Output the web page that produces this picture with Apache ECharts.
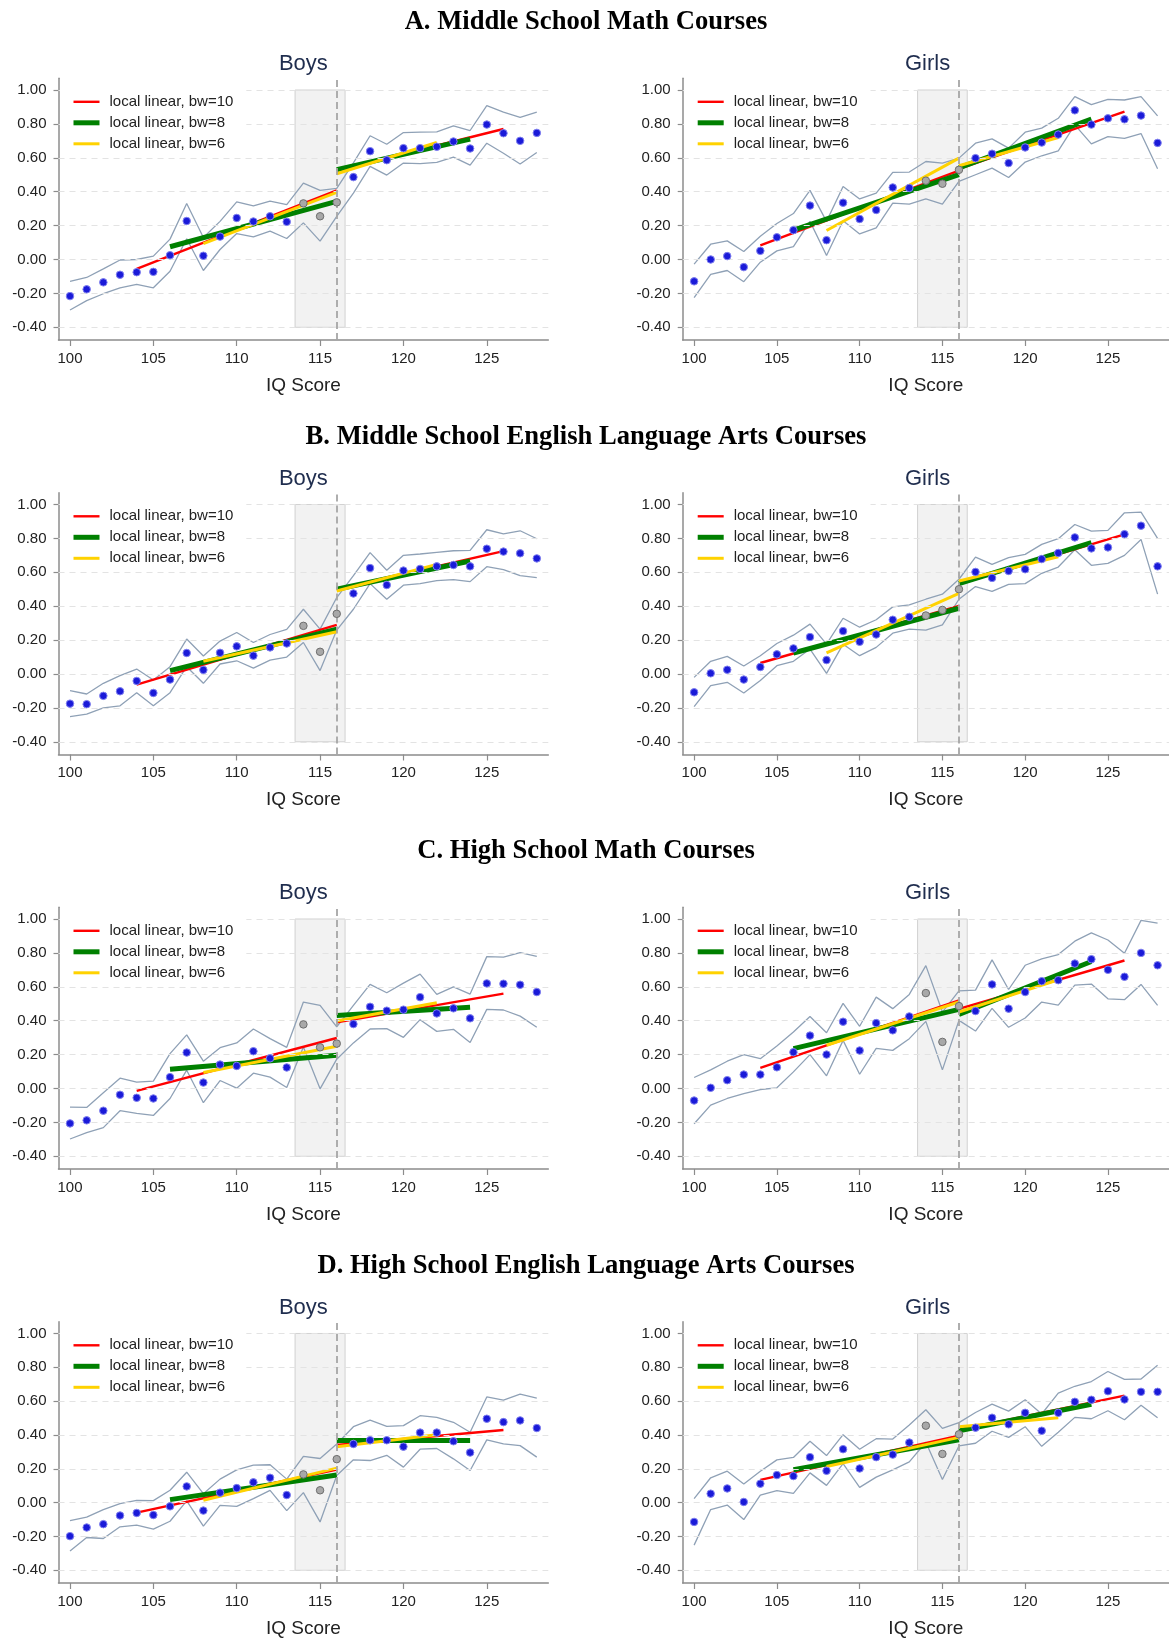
<!DOCTYPE html>
<html>
<head>
<meta charset="utf-8">
<script src="https://cdn.jsdelivr.net/npm/echarts@6/dist/echarts.min.js"></script>
<style>
html,body{margin:0;padding:0;background:#fff;}
#chart{width:1169px;height:1639px;}
</style>
</head>
<body>
<div id="chart"></div>
<script>
// ---------- shared axis / design values ----------
const IQ = [100,101,102,103,104,105,106,107,108,109,110,111,112,113,114,115,116,117,118,119,120,121,122,123,124,125,126,127,128];
const X_TICKS = [100,105,110,115,120,125];
const Y_TICKS = [-0.4,-0.2,0,0.2,0.4,0.6,0.8,1.0];
const CUTOFF = 116;
const DONUT = [114,115,116];
const SHADE_X = [113.5,116.5];
const SHADE_Y = [-0.4,1.0];
const BW_NAMES = ['local linear, bw=10','local linear, bw=8','local linear, bw=6'];
const BW10_X = [[104,116],[116,126]];
const BW8_X = [[106,116],[116,124]];
const BW6_X = [[108,116],[116,122]];
const SECTION_TITLES = ['A. Middle School Math Courses','B. Middle School English Language Arts Courses','C. High School Math Courses','D. High School English Language Arts Courses'];
const GROUPS = ['Boys','Girls'];

// ---------- A. Middle School Math ----------
const A_boys_pts = [-0.216,-0.176,-0.135,-0.090,-0.075,-0.073,0.025,0.227,0.022,0.135,0.245,0.224,0.255,0.222,0.331,0.255,0.337,0.486,0.639,0.586,0.657,0.657,0.665,0.696,0.655,0.796,0.745,0.700,0.747];
const A_boys_hi = [-0.129,-0.106,-0.055,-0.003,0.000,0.020,0.120,0.330,0.130,0.225,0.340,0.316,0.345,0.324,0.451,0.408,0.420,0.570,0.730,0.680,0.749,0.751,0.753,0.788,0.761,0.908,0.869,0.839,0.869];
const A_boys_lo = [-0.298,-0.243,-0.202,-0.167,-0.147,-0.167,-0.069,0.122,-0.065,0.059,0.153,0.133,0.167,0.124,0.216,0.108,0.255,0.392,0.549,0.498,0.569,0.565,0.573,0.604,0.557,0.686,0.627,0.563,0.631];
const A_boys_bw10 = [[-0.055,0.408],[0.525,0.770]];
const A_boys_bw8 = [[0.075,0.343],[0.530,0.710]];
const A_boys_bw6 = [[0.094,0.396],[0.506,0.690]];

const A_girls_pts = [-0.129,0.000,0.020,-0.045,0.051,0.131,0.173,0.318,0.114,0.335,0.239,0.292,0.425,0.422,0.465,0.447,0.529,0.598,0.624,0.569,0.661,0.690,0.737,0.880,0.796,0.833,0.827,0.849,0.688];
const A_girls_hi = [-0.027,0.090,0.110,0.047,0.137,0.212,0.271,0.408,0.225,0.431,0.357,0.392,0.514,0.516,0.578,0.569,0.598,0.686,0.712,0.657,0.751,0.775,0.833,0.961,0.914,0.945,0.941,0.961,0.847];
const A_girls_lo = [-0.225,-0.088,-0.065,-0.131,-0.016,0.051,0.076,0.225,0.024,0.229,0.151,0.186,0.333,0.327,0.357,0.327,0.461,0.500,0.539,0.484,0.575,0.612,0.641,0.794,0.682,0.725,0.714,0.743,0.535];
const A_girls_bw10 = [[0.084,0.524],[0.535,0.873]];
const A_girls_bw8 = [[0.173,0.500],[0.540,0.829]];
const A_girls_bw6 = [[0.171,0.598],[0.553,0.720]];

// ---------- B. Middle School ELA ----------
const B_boys_pts = [-0.175,-0.178,-0.129,-0.102,-0.041,-0.112,-0.033,0.124,0.024,0.125,0.163,0.108,0.157,0.180,0.284,0.131,0.355,0.475,0.625,0.525,0.610,0.620,0.635,0.643,0.635,0.739,0.722,0.712,0.682];
const B_boys_hi = [-0.098,-0.118,-0.055,-0.010,0.029,-0.035,0.043,0.206,0.106,0.194,0.245,0.186,0.233,0.263,0.382,0.265,0.451,0.580,0.716,0.612,0.700,0.708,0.718,0.727,0.729,0.851,0.827,0.845,0.798];
const B_boys_lo = [-0.251,-0.237,-0.200,-0.188,-0.110,-0.188,-0.110,0.043,-0.055,0.059,0.078,0.035,0.082,0.100,0.186,0.020,0.259,0.382,0.533,0.441,0.524,0.533,0.551,0.557,0.545,0.633,0.616,0.580,0.569];
const B_boys_bw10 = [[-0.063,0.290],[0.500,0.725]];
const B_boys_bw8 = [[0.020,0.265],[0.500,0.667]];
const B_boys_bw6 = [[0.075,0.249],[0.490,0.647]];

const B_girls_pts = [-0.108,0.004,0.025,-0.033,0.041,0.116,0.151,0.218,0.082,0.253,0.190,0.233,0.320,0.337,0.345,0.378,0.500,0.602,0.567,0.608,0.618,0.678,0.714,0.806,0.741,0.747,0.825,0.875,0.635];
const B_girls_hi = [-0.020,0.075,0.104,0.047,0.108,0.180,0.229,0.294,0.176,0.329,0.276,0.320,0.396,0.408,0.441,0.471,0.559,0.690,0.647,0.686,0.706,0.765,0.798,0.882,0.843,0.847,0.951,0.955,0.800];
const B_girls_lo = [-0.192,-0.069,-0.049,-0.112,-0.039,0.049,0.075,0.147,0.004,0.176,0.108,0.157,0.241,0.265,0.259,0.290,0.441,0.516,0.488,0.529,0.533,0.594,0.631,0.733,0.641,0.653,0.700,0.794,0.471];
const B_girls_bw10 = [[0.065,0.402],[0.530,0.824]];
const B_girls_bw8 = [[0.124,0.388],[0.533,0.775]];
const B_girls_bw6 = [[0.124,0.475],[0.549,0.692]];

// ---------- C. High School Math ----------
const C_boys_pts = [-0.206,-0.188,-0.131,-0.037,-0.055,-0.059,0.067,0.212,0.035,0.141,0.133,0.220,0.178,0.124,0.378,0.243,0.265,0.380,0.482,0.459,0.465,0.539,0.443,0.473,0.414,0.620,0.618,0.612,0.569];
const C_boys_hi = [-0.110,-0.112,-0.025,0.061,0.037,0.043,0.206,0.316,0.161,0.241,0.269,0.351,0.294,0.243,0.510,0.490,0.363,0.490,0.614,0.565,0.622,0.675,0.555,0.600,0.557,0.778,0.775,0.802,0.780];
const C_boys_lo = [-0.298,-0.261,-0.231,-0.131,-0.147,-0.159,-0.059,0.108,-0.084,0.047,0.002,0.090,0.067,0.006,0.245,-0.002,0.173,0.269,0.351,0.353,0.302,0.406,0.337,0.349,0.271,0.467,0.463,0.427,0.361];
const C_boys_bw10 = [[-0.014,0.298],[0.390,0.560]];
const C_boys_bw8 = [[0.114,0.196],[0.431,0.480]];
const C_boys_bw6 = [[0.094,0.249],[0.398,0.506]];

const C_girls_pts = [-0.071,0.004,0.049,0.082,0.082,0.125,0.214,0.312,0.200,0.394,0.224,0.386,0.343,0.425,0.563,0.275,0.486,0.457,0.614,0.471,0.569,0.633,0.639,0.737,0.763,0.700,0.659,0.800,0.727];
const C_girls_hi = [0.065,0.110,0.161,0.200,0.176,0.251,0.333,0.425,0.329,0.502,0.367,0.539,0.471,0.555,0.725,0.451,0.576,0.580,0.759,0.584,0.727,0.765,0.790,0.869,0.918,0.876,0.798,0.992,0.976];
const C_girls_lo = [-0.208,-0.098,-0.059,-0.031,-0.006,0.004,0.098,0.200,0.075,0.284,0.084,0.237,0.225,0.294,0.396,0.110,0.402,0.339,0.473,0.361,0.416,0.510,0.492,0.610,0.616,0.529,0.524,0.614,0.490];
const C_girls_bw10 = [[0.122,0.520],[0.470,0.755]];
const C_girls_bw8 = [[0.235,0.467],[0.437,0.749]];
const C_girls_bw6 = [[0.255,0.510],[0.451,0.641]];

// ---------- D. High School ELA ----------
const D_boys_pts = [-0.198,-0.147,-0.127,-0.076,-0.061,-0.073,-0.022,0.096,-0.047,0.059,0.086,0.120,0.147,0.045,0.167,0.073,0.257,0.347,0.369,0.369,0.331,0.414,0.414,0.363,0.296,0.496,0.476,0.486,0.441];
const D_boys_hi = [-0.106,-0.086,-0.041,-0.006,0.014,0.012,0.073,0.180,0.053,0.139,0.194,0.222,0.224,0.139,0.273,0.261,0.347,0.449,0.488,0.451,0.455,0.514,0.504,0.475,0.416,0.625,0.606,0.641,0.618];
const D_boys_lo = [-0.286,-0.206,-0.212,-0.143,-0.133,-0.157,-0.110,0.010,-0.139,-0.016,-0.022,0.024,0.073,-0.047,0.059,-0.114,0.161,0.253,0.249,0.280,0.210,0.316,0.320,0.259,0.190,0.371,0.347,0.337,0.269];
const D_boys_bw10 = [[-0.059,0.196],[0.341,0.429]];
const D_boys_bw8 = [[0.018,0.163],[0.367,0.367]];
const D_boys_bw6 = [[0.014,0.204],[0.331,0.402]];

const D_girls_pts = [-0.114,0.053,0.084,0.004,0.112,0.163,0.157,0.269,0.188,0.316,0.202,0.269,0.284,0.355,0.455,0.288,0.404,0.443,0.502,0.463,0.531,0.425,0.531,0.596,0.608,0.659,0.610,0.655,0.655];
const D_girls_hi = [0.024,0.147,0.186,0.110,0.186,0.253,0.267,0.363,0.278,0.402,0.316,0.378,0.376,0.459,0.549,0.439,0.473,0.533,0.582,0.541,0.608,0.524,0.647,0.688,0.716,0.775,0.729,0.731,0.812];
const D_girls_lo = [-0.251,-0.041,-0.014,-0.100,0.045,0.071,0.055,0.176,0.102,0.231,0.090,0.151,0.194,0.241,0.357,0.137,0.335,0.351,0.422,0.386,0.449,0.333,0.416,0.504,0.496,0.543,0.490,0.576,0.502];
const D_girls_bw10 = [[0.135,0.396],[0.430,0.633]];
const D_girls_bw8 = [[0.194,0.371],[0.425,0.582]];
const D_girls_bw6 = [[0.214,0.386],[0.449,0.502]];

// ---------- assemble ----------
const PANELS = [
  {row:0,col:0,pts:A_boys_pts,hi:A_boys_hi,lo:A_boys_lo,fits:[A_boys_bw10,A_boys_bw8,A_boys_bw6]},
  {row:0,col:1,pts:A_girls_pts,hi:A_girls_hi,lo:A_girls_lo,fits:[A_girls_bw10,A_girls_bw8,A_girls_bw6]},
  {row:1,col:0,pts:B_boys_pts,hi:B_boys_hi,lo:B_boys_lo,fits:[B_boys_bw10,B_boys_bw8,B_boys_bw6]},
  {row:1,col:1,pts:B_girls_pts,hi:B_girls_hi,lo:B_girls_lo,fits:[B_girls_bw10,B_girls_bw8,B_girls_bw6]},
  {row:2,col:0,pts:C_boys_pts,hi:C_boys_hi,lo:C_boys_lo,fits:[C_boys_bw10,C_boys_bw8,C_boys_bw6]},
  {row:2,col:1,pts:C_girls_pts,hi:C_girls_hi,lo:C_girls_lo,fits:[C_girls_bw10,C_girls_bw8,C_girls_bw6]},
  {row:3,col:0,pts:D_boys_pts,hi:D_boys_hi,lo:D_boys_lo,fits:[D_boys_bw10,D_boys_bw8,D_boys_bw6]},
  {row:3,col:1,pts:D_girls_pts,hi:D_girls_hi,lo:D_girls_lo,fits:[D_girls_bw10,D_girls_bw8,D_girls_bw6]}
];

const FIT_X = [BW10_X, BW8_X, BW6_X];
const FIT_COLORS = ['#ff0000','#008000','#ffd200'];
const FIT_WIDTHS = [2.4, 5, 3];

const SANS = 'Arial, "Liberation Sans", Helvetica, sans-serif';
const SERIF = '"Times New Roman", "Liberation Serif", serif';
const ROW_H = 414.5;
const GRID_TOP = 78.3;
const GRID_H = 261.7;
const GRID_W = 489.8;
const COL_LEFT = [58.5, 682.7];
const AXIS_COLOR = '#8c8c8c';

const grids = [], xAxes = [], yAxes = [], series = [], legends = [], graphics = [];

SECTION_TITLES.forEach((t, r) => {
  graphics.push({type:'text', x:586, y:22.5 + r*ROW_H,
    style:{text:t, font:'bold 26.6px ' + SERIF, fill:'#000', textAlign:'center', textVerticalAlign:'middle'}});
});

PANELS.forEach((p, i) => {
  const left = COL_LEFT[p.col];
  const top = GRID_TOP + p.row*ROW_H;
  grids.push({left:left, top:top, width:GRID_W, height:GRID_H, containLabel:false});
  graphics.push({type:'text', x:left + GRID_W/2, y:64 + p.row*ROW_H,
    style:{text:GROUPS[p.col], font:'22px ' + SANS, fill:'#1f2d4e', textAlign:'center', textVerticalAlign:'middle'}});
  xAxes.push({
    type:'value', gridIndex:i, min:99.31, max:128.69, position:'bottom',
    name:'IQ Score', nameLocation:'middle', nameGap:36,
    nameTextStyle:{fontSize:19, color:'#222', fontFamily:SANS},
    axisLine:{show:true, onZero:false, lineStyle:{color:AXIS_COLOR, width:1.5}},
    axisTick:{show:true, length:6, customValues:X_TICKS, lineStyle:{color:AXIS_COLOR, width:1.2}},
    axisLabel:{customValues:X_TICKS, fontSize:15, color:'#222', fontFamily:SANS, margin:11},
    splitLine:{show:false}
  });
  yAxes.push({
    type:'value', gridIndex:i, min:-0.475, max:1.069, position:'left',
    axisLine:{show:true, onZero:false, lineStyle:{color:AXIS_COLOR, width:1.5}},
    axisTick:{show:true, length:5, customValues:Y_TICKS, lineStyle:{color:AXIS_COLOR, width:1.2}},
    axisLabel:{customValues:Y_TICKS, fontSize:15, color:'#222', fontFamily:SANS, margin:12,
      formatter: v => v.toFixed(2)},
    splitLine:{show:false}
  });
  // grid lines
  series.push({type:'scatter', xAxisIndex:i, yAxisIndex:i, data:[], z:0, silent:true,
    markLine:{silent:true, symbol:['none','none'], animation:false, label:{show:false},
      lineStyle:{color:'#e3e3e3', type:[6,5], width:1},
      data: Y_TICKS.map(v => ({yAxis:v}))}});
  // shaded donut band
  series.push({type:'scatter', xAxisIndex:i, yAxisIndex:i, data:[], z:1, silent:true,
    markArea:{silent:true, animation:false,
      itemStyle:{color:'#f2f2f2', borderColor:'#d2d2d2', borderWidth:1},
      data:[[{xAxis:SHADE_X[0], yAxis:SHADE_Y[0]},{xAxis:SHADE_X[1], yAxis:SHADE_Y[1]}]]}});
  // cutoff line
  series.push({type:'scatter', xAxisIndex:i, yAxisIndex:i, data:[], z:2, silent:true,
    markLine:{silent:true, symbol:['none','none'], animation:false, label:{show:false},
      lineStyle:{color:'#a6a6a6', type:[7,4], width:1.8},
      data:[{xAxis:CUTOFF}]}});
  // confidence bounds
  [p.hi, p.lo].forEach(arr => {
    series.push({type:'line', xAxisIndex:i, yAxisIndex:i, z:3, symbol:'none', silent:true,
      lineStyle:{color:'#8fa1b6', width:1.3},
      data: IQ.map((x, k) => [x, arr[k]])});
  });
  // local linear fits
  p.fits.forEach((fit, f) => {
    fit.forEach((seg, s) => {
      series.push({type:'line', name:BW_NAMES[f], xAxisIndex:i, yAxisIndex:i, z:4 + f*0.1, symbol:'none', silent:true,
        lineStyle:{color:FIT_COLORS[f], width:FIT_WIDTHS[f], cap:'butt'},
        itemStyle:{color:FIT_COLORS[f]},
        data:[[FIT_X[f][s][0], seg[0]],[FIT_X[f][s][1], seg[1]]]});
    });
  });
  // binned means
  series.push({type:'scatter', xAxisIndex:i, yAxisIndex:i, z:6, symbolSize:7.5, silent:true,
    itemStyle:{color:'#1a1ad8', borderColor:'#8080f0', borderWidth:1, opacity:1},
    data: IQ.map((x,k)=>[x,p.pts[k]]).filter(d => DONUT.indexOf(d[0]) < 0)});
  series.push({type:'scatter', xAxisIndex:i, yAxisIndex:i, z:6, symbolSize:7.5, silent:true,
    itemStyle:{color:'#a8a8a8', borderColor:'#6e6e6e', borderWidth:1, opacity:1},
    data: IQ.map((x,k)=>[x,p.pts[k]]).filter(d => DONUT.indexOf(d[0]) >= 0)});
  legends.push({
    data:BW_NAMES, orient:'vertical', left:left + 1.5, top:top + 7,
    itemWidth:26, itemHeight:14, itemGap:6, selectedMode:false,
    backgroundColor:'#ffffff', padding:[9,13,4,11], z:10,
    itemStyle:{color:'rgba(0,0,0,0)', borderWidth:0, opacity:0},
    lineStyle:{width:'inherit'},
    textStyle:{fontSize:15, color:'#222', fontFamily:SANS, padding:[0,0,0,5]}
  });
});

const chart = echarts.init(document.getElementById('chart'), null, {renderer:'canvas'});
chart.setOption({
  animation:false,
  backgroundColor:'#ffffff',
  grid:grids, xAxis:xAxes, yAxis:yAxes, series:series, legend:legends,
  graphic:graphics
});
</script>
</body>
</html>
